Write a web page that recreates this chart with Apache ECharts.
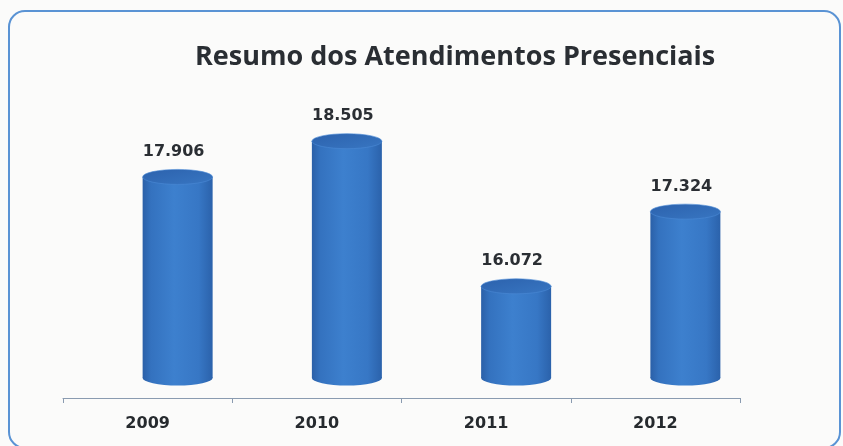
<!DOCTYPE html>
<html lang="pt">
<head>
    <meta charset="UTF-8">
    <title>Resumo dos Atendimentos Presenciais</title>
    <script src="https://cdn.jsdelivr.net/npm/echarts@6/dist/echarts.min.js"></script>
    <style>
        html, body { margin: 0; padding: 0; background: #fbfbfa; }
        #chart { width: 843px; height: 446px; }
    </style>
</head>
<body>
<div id="chart"></div>
<script>
// dados
var anos = ['2009', '2010', '2011', '2012'];
var atendimentos = [17906, 18505, 16072, 17324];
var yMin = 14200, yMax = 20000;

function fmt(v) {
    return String(v).replace(/\B(?=(\d{3})+(?!\d))/g, '.');
}

var corpo = new echarts.graphic.LinearGradient(0, 0, 1, 0, [
    { offset: 0, color: '#2b60a8' },
    { offset: 0.12, color: '#3472bf' },
    { offset: 0.45, color: '#3d80ce' },
    { offset: 0.8, color: '#3777c5' },
    { offset: 1, color: '#2b62ab' }
]);
var tampa = new echarts.graphic.LinearGradient(0, 0, 1, 1, [
    { offset: 0, color: '#2c62ad' },
    { offset: 1, color: '#3876c2' }
]);

var myChart = echarts.init(document.getElementById('chart'));

var option = {
    backgroundColor: '#fbfbfa',
    animation: false,
    title: {
        text: 'Resumo dos Atendimentos Presenciais',
        left: 190,
        top: 39,
        textStyle: {
            fontFamily: 'Open Sans',
            fontWeight: 'bold',
            fontSize: 27,
            color: '#2a2e33'
        }
    },
    graphic: [{
        type: 'rect',
        z: -10,
        shape: { x: 9, y: 11, width: 831, height: 437, r: 16 },
        style: { fill: 'none', stroke: '#5a93d4', lineWidth: 2 }
    }],
    grid: { left: 63, right: 103, top: 52, bottom: 48 },
    xAxis: {
        type: 'category',
        data: anos,
        axisLine: { lineStyle: { color: '#8a9bb0', width: 1 } },
        axisTick: { show: true, length: 5, lineStyle: { color: '#8a9bb0' } },
        axisLabel: {
            margin: 18,
            fontFamily: 'DejaVu Sans',
            fontWeight: 'bold',
            fontSize: 16,
            color: '#262a2e'
        }
    },
    yAxis: {
        type: 'value',
        min: yMin,
        max: yMax,
        show: false,
        splitLine: { show: false }
    },
    series: [{
        type: 'custom',
        data: atendimentos.map(function (v, i) { return [i, v]; }),
        encode: { x: 0, y: 1 },
        renderItem: function (params, api) {
            var idx = api.value(0);
            var val = api.value(1);
            var top = api.coord([idx, val]);
            var base = api.coord([idx, yMin]);
            var cx = top[0] + 30;      // deslocamento da perspectiva 3D
            var ty = top[1];
            var by = base[1] - 20;
            var rx = 35, ry = 7.5;
            return {
                type: 'group',
                children: [
                    {
                        type: 'circle',
                        x: cx, y: by, scaleY: ry / rx,
                        shape: { cx: 0, cy: 0, r: rx },
                        style: { fill: corpo }
                    },
                    {
                        type: 'rect',
                        shape: { x: cx - rx, y: ty, width: rx * 2, height: by - ty },
                        style: { fill: corpo }
                    },
                    {
                        type: 'circle',
                        x: cx, y: ty, scaleY: ry / rx,
                        shape: { cx: 0, cy: 0, r: rx },
                        style: { fill: tampa, stroke: '#4a8ad6', lineWidth: 1 }
                    },
                    {
                        type: 'text',
                        x: cx - 4, y: ty - 25,
                        style: {
                            text: fmt(val),
                            fontFamily: 'DejaVu Sans',
                            fontWeight: 'bold',
                            fontSize: 16,
                            fill: '#2a2e33',
                            align: 'center',
                            verticalAlign: 'middle'
                        }
                    }
                ]
            };
        }
    }]
};
myChart.setOption(option);
</script>
</body>
</html>
